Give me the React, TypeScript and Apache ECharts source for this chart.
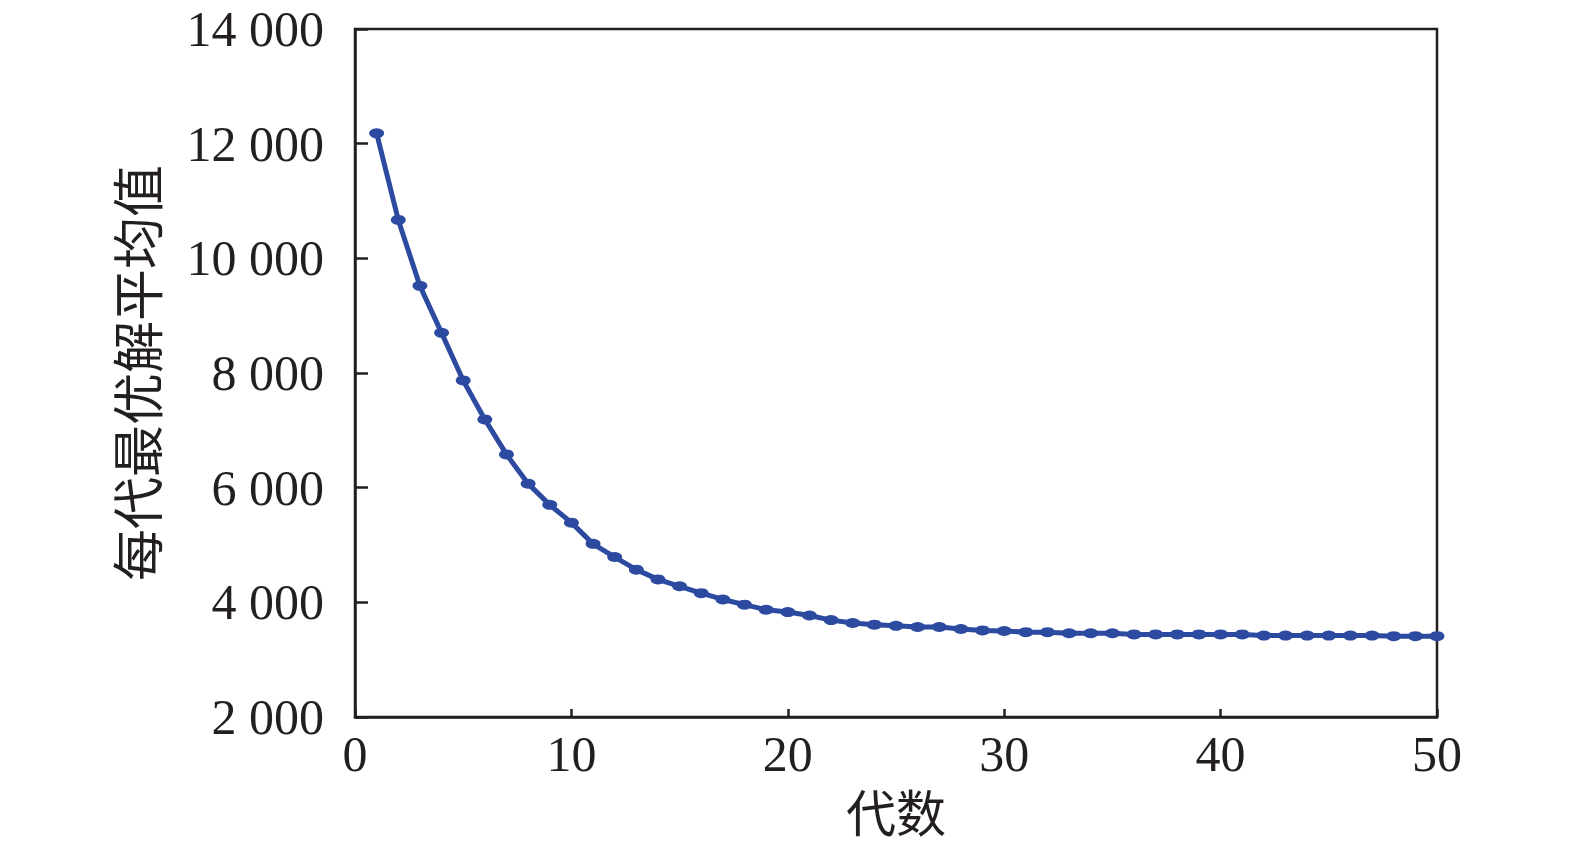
import React, { useEffect, useRef } from "react";
import * as echarts from "echarts";

const generations: number[] = Array.from({ length: 50 }, (_, i) => i + 1);
const avgBest: number[] = [
  12180, 10670, 9520, 8700, 7870, 7190, 6580, 6070, 5700, 5390,
  5020, 4790, 4570, 4400, 4280, 4160, 4050, 3960, 3870, 3830,
  3770, 3690, 3640, 3610, 3590, 3570, 3570, 3535, 3510, 3500,
  3480, 3480, 3460, 3460, 3460, 3440, 3440, 3440, 3440, 3440,
  3440, 3420, 3420, 3420, 3420, 3420, 3420, 3410, 3410, 3410,
];
const xTicks = { min: 0, max: 50, interval: 10 };
const yTicks = { min: 2000, max: 14000, interval: 2000 };
const xName = "代数";
const yName = "每代最优解平均值";

const fmt = (v: number) => String(v).replace(/\B(?=(\d{3})+(?!\d))/g, " ");

export default function App() {
  const ref = useRef<HTMLDivElement>(null);
  useEffect(() => {
    if (!ref.current) return;
    const chart = echarts.init(ref.current, undefined, { renderer: "svg" });
    const axisColor = "#231f20";
    const serif = "'Liberation Serif', 'Times New Roman', serif";
    const cjk = "'Noto Sans CJK SC', sans-serif";
    chart.setOption({
      animation: false,
      backgroundColor: "#ffffff",
      grid: {
        left: 355,
        right: 138,
        top: 29,
        bottom: 133,
        show: true,
        borderColor: axisColor,
        borderWidth: 2.5,
        backgroundColor: "transparent",
      },
      xAxis: {
        type: "value",
        min: xTicks.min,
        max: xTicks.max,
        interval: xTicks.interval,
        name: xName,
        nameLocation: "middle",
        nameGap: 68,
        nameTextStyle: { fontFamily: cjk, fontSize: 50, color: axisColor },
        axisLine: { show: true, lineStyle: { color: axisColor, width: 2.5 } },
        axisTick: { show: true, inside: true, length: 8, lineStyle: { color: axisColor, width: 2.5 } },
        axisLabel: { fontFamily: serif, fontSize: 50, color: axisColor, margin: 12 },
        splitLine: { show: false },
      },
      yAxis: {
        type: "value",
        min: yTicks.min,
        max: yTicks.max,
        interval: yTicks.interval,
        name: yName,
        nameLocation: "middle",
        nameGap: 194,
        nameRotate: 90,
        nameTextStyle: { fontFamily: cjk, fontSize: 52, color: axisColor },
        axisLine: { show: true, lineStyle: { color: axisColor, width: 2.5 } },
        axisTick: { show: true, inside: true, length: 13, lineStyle: { color: axisColor, width: 2.5 } },
        axisLabel: { fontFamily: serif, fontSize: 50, color: axisColor, margin: 31, formatter: fmt },
        splitLine: { show: false },
      },
      series: [
        {
          type: "line",
          data: generations.map((g, i) => [g, avgBest[i]]),
          symbol: "circle",
          symbolSize: [15, 10],
          showSymbol: true,
          clip: false,
          lineStyle: { color: "#2c4aa0", width: 5 },
          itemStyle: { color: "#2c4aa0" },
        },
      ],
    });
    return () => chart.dispose();
  }, []);
  return (
    <div
      ref={ref}
      style={{ position: "absolute", left: 0, top: 0, width: 1575, height: 850, background: "#fff" }}
    />
  );
}
